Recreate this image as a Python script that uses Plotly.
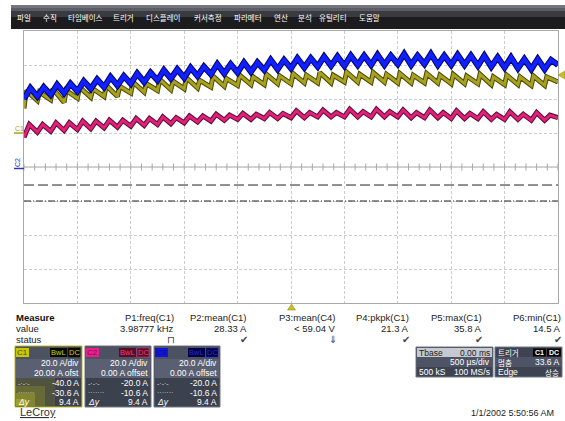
import plotly.graph_objects as go

W, H = 565, 421
SANS = "Liberation Sans, Arial, sans-serif"
KR = "Noto Sans CJK KR, Liberation Sans, sans-serif"

menu_items = ["파일", "수직", "타임베이스", "트리거", "디스플레이", "커서측정",
              "파라메터", "연산", "분석", "유틸리티", "도움말"]

# ripple tooth start times (ms), time base 500 us/div, trigger at centre
tooth_t = [-2.5, -2.375, -2.25, -2.125, -2.0, -1.875, -1.75, -1.625, -1.5, -1.375,
           -1.25, -1.125, -1.0, -0.875, -0.75, -0.625, -0.5, -0.375, -0.25, -0.125,
           0.0, 0.125, 0.25, 0.375, 0.5, 0.625, 0.75, 0.875, 1.0, 1.125,
           1.25, 1.375, 1.5, 1.625, 1.75, 1.875, 2.0, 2.125, 2.25, 2.375]

# C1 (yellow) current, A  -- 20 A/div, offset 20 A
c1_hi = [25, 24, 26, 25, 27, 26, 28, 27.5, 30, 29, 31.5, 30.5, 32.5, 31, 33.5, 32, 34, 33, 34.5, 33.5,
         35, 34, 35.5, 34, 35.8, 34.5, 35.5, 34.5, 35, 34, 35, 34, 34.5, 33.5, 34.5, 33, 34, 33, 33.5, 33]
c1_lo = [14.5, 19, 19.5, 18, 20.5, 21, 21.5, 21.5, 23.5, 24, 25, 25.5, 26, 26.5, 27, 27.5, 28, 28.5, 28.5, 29,
         29, 29.5, 29.5, 29.5, 30, 30, 30, 30, 29.5, 29.5, 29.5, 29.5, 29, 29, 29, 28.5, 28.5, 28.5, 28, 28]
c1_end = 30

# C2 (magenta) current, A -- 20 A/div, 0 offset
c2_hi = [25, 25, 26, 26, 27, 27, 27.5, 27.5, 28.5, 28.5, 29.5, 29, 30, 30, 31, 30.5, 31.5, 31, 32, 31.5,
         33, 32, 33.5, 32, 34, 32.5, 34, 32.5, 33.5, 32, 33.5, 32, 33, 31.5, 32.5, 31, 32.5, 31, 32, 30.5]
c2_lo = [17.5, 20.5, 21, 21.5, 22, 22.5, 23, 23.5, 24, 24.5, 25, 25.5, 26, 26.5, 27, 27.5, 28, 28, 28.5, 28.5,
         29, 29, 29.5, 29.5, 29.5, 29.5, 29.5, 29.5, 29.5, 29, 29, 29, 28.5, 28.5, 28.5, 28, 28, 28, 27.5, 27.5]
c2_end = 29

# C3 (blue) current, A -- 20 A/div, 0 offset
c3_hi = [46.5, 47, 48.5, 49, 50.5, 51.5, 53, 53.5, 55, 55.5, 57, 57.5, 58.5, 59, 60.5, 60.5, 61.5, 61.5, 63, 63,
         64, 64, 65, 65, 65.5, 65.5, 66, 65.5, 66.5, 65.5, 66.5, 65.5, 66, 65.5, 65.5, 64.5, 64.5, 63.5, 63.5, 63]
c3_lo = [40, 41.5, 42.5, 43.5, 44.5, 46, 47, 48, 49, 50, 51, 52, 52.5, 53.5, 54.5, 55, 55.5, 56, 57, 57.5,
         58, 58.5, 59, 59.5, 59.5, 60, 60, 60, 60.5, 60, 60.5, 60, 60, 60, 59.5, 59, 58.5, 58, 57.5, 57.5]
c3_end = 60

cursor_a = -40.0    # dash-dot cursor (A, C1 scale)
cursor_b = -30.6    # dashed cursor  (A, C1 scale)

meas_names = ["P1:freq(C1)", "P2:mean(C1)", "P3:mean(C4)", "P4:pkpk(C1)", "P5:max(C1)", "P6:min(C1)"]
meas_values = ["3.98777 kHz", "28.33 A", "< 59.04 V", "21.3 A", "35.8 A", "14.5 A"]
meas_status = ["⊓", "✔", "⇓", "✔", "✔", "✔"]

# ---------------- helpers ----------------
shapes, ann = [], []


def px(x):
    return x / W


def py(y):
    return 1 - y / H


def rect(x0, y0, x1, y1, fill, line=None, lw=0, opacity=1.0):
    shapes.append(dict(type="rect", xref="paper", yref="paper", x0=px(x0), x1=px(x1),
                       y0=py(y1), y1=py(y0), fillcolor=fill, opacity=opacity,
                       line=dict(color=line or fill, width=lw), layer="above"))


def txt(x, y, s, size=8.5, color="#111111", anchor="left", font=SANS, angle=0):
    ann.append(dict(x=px(x), y=py(y), xref="paper", yref="paper", text=s, showarrow=False,
                    xanchor=anchor, yanchor="middle", textangle=angle, borderpad=0,
                    font=dict(size=size, color=color, family=font)))


def zigzag(hi, lo, end, rise):
    xs, ys = [], []
    for t, h, l in zip(tooth_t, hi, lo):
        xs += [t, t + rise]
        ys += [l, h]
    xs.append(2.5)
    ys.append(end)
    return xs, ys


fig = go.Figure()

# centre-line ticks
tick_x = [round(-2.5 + 0.1 * i, 3) for i in range(51)]
fig.add_trace(go.Scatter(x=tick_x, y=[-20] * len(tick_x), mode="markers", yaxis="y",
                         marker=dict(symbol="line-ns", size=5, line=dict(width=1, color="#a8a8a8")),
                         hoverinfo="skip", showlegend=False))

# traces
x2, y2 = zigzag(c2_hi, c2_lo, c2_end, 0.05)
fig.add_trace(go.Scatter(x=x2, y=y2, yaxis="y2", mode="lines", line=dict(color="#5a0a30", width=5), showlegend=False))
fig.add_trace(go.Scatter(x=x2, y=y2, yaxis="y2", mode="lines", line=dict(color="#e0207a", width=3), showlegend=False))
x1, y1 = zigzag(c1_hi, c1_lo, c1_end, 0.02)
fig.add_trace(go.Scatter(x=x1, y=y1, yaxis="y", mode="lines", line=dict(color="#4a4a00", width=5), showlegend=False))
fig.add_trace(go.Scatter(x=x1, y=y1, yaxis="y", mode="lines", line=dict(color="#a8a020", width=3), showlegend=False))
x3, y3 = zigzag(c3_hi, c3_lo, c3_end, 0.06)
fig.add_trace(go.Scatter(x=x3, y=y3, yaxis="y2", mode="lines", line=dict(color="#00006a", width=6), showlegend=False))
fig.add_trace(go.Scatter(x=x3, y=y3, yaxis="y2", mode="lines", line=dict(color="#1020ff", width=4), showlegend=False))

# centre horizontal line + cursors
shapes.append(dict(type="line", xref="x", yref="y", x0=-2.5, x1=2.5, y0=-20, y1=-20,
                   line=dict(color="#a8a8a8", width=1), layer="below"))
shapes.append(dict(type="line", xref="x", yref="y", x0=-2.5, x1=2.5, y0=cursor_b, y1=cursor_b,
                   line=dict(color="#222222", width=1, dash="10px,4px")))
shapes.append(dict(type="line", xref="x", yref="y", x0=-2.5, x1=2.5, y0=cursor_a, y1=cursor_a,
                   line=dict(color="#222222", width=1, dash="7px,2px,1px,2px")))

# ---------------- menu bar ----------------
rect(11, 5, 565, 29, "#1c1c1e")
rect(11, 5, 565, 17, "#3a3b40")
rect(11, 5, 565, 11, "#5c5e66")
rect(11, 5, 565, 8, "#74767e")
menu_x = [16, 42, 67, 112, 145, 193, 233, 273, 297, 318, 358]
for mx, m in zip(menu_x, menu_items):
    txt(mx, 17.5, m, size=7.5, color="#ffffff", font=KR)

# ---------------- channel markers ----------------
txt(14, 128, "C1", size=7, color="#a8a020")
shapes.append(dict(type="line", xref="paper", yref="paper", x0=px(14), x1=px(24), y0=py(133), y1=py(133),
                   line=dict(color="#a8a020", width=1.5)))
txt(18, 163, "C2", size=7, color="#3434b0", anchor="center", angle=-90)
shapes.append(dict(type="line", xref="paper", yref="paper", x0=px(14), x1=px(24), y0=py(168.5), y1=py(168.5),
                   line=dict(color="#3434b0", width=1.5)))
shapes.append(dict(type="path", xref="paper", yref="paper",
                   path=f"M {px(558)} {py(75)} L {px(565)} {py(71)} L {px(565)} {py(79)} Z",
                   fillcolor="#c8c020", line=dict(color="#8a8410", width=0.5)))
shapes.append(dict(type="path", xref="paper", yref="paper",
                   path=f"M {px(291.5)} {py(304)} L {px(287.5)} {py(310)} L {px(295.5)} {py(310)} Z",
                   fillcolor="#c8c020", line=dict(color="#8a8410", width=0.5)))

# ---------------- measurement table ----------------
txt(15, 317, "<b>Measure</b>", size=9.5, color="#111111")
txt(15, 328, "value", size=9.5, color="#222222")
txt(15, 339, "status", size=9.5, color="#222222")
meas_right = [175, 248, 337, 410, 483, 562]
for r, nm, v, st in zip(meas_right, meas_names, meas_values, meas_status):
    txt(r, 317, nm, size=9.5, color="#222222", anchor="right")
    txt(r, 328, v, size=9.5, color="#222222", anchor="right")
    txt(r - 4, 339, st, size=10, color="#444444", anchor="center", font="DejaVu Sans, sans-serif")

# ---------------- channel descriptor boxes ----------------
boxes = [
    dict(x0=15, x1=82, label="C1", lab_bg="#c8c800", lab_fg="#4a4a00", tag_bg="#080808", tag_fg="#d0d000",
         border="#c0c020", offs="20.00 A ofst", c1=True),
    dict(x0=85, x1=151, label="C2", lab_bg="#e8208c", lab_fg="#8a0c4a", tag_bg="#5a0c24", tag_fg="#f03c80",
         border="#707684", offs="0.00 A offset", c1=False),
    dict(x0=154, x1=220, label="C3", lab_bg="#1414d8", lab_fg="#0a0aa0", tag_bg="#000040", tag_fg="#2a2ad0",
         border="#707684", offs="0.00 A offset", c1=False),
]
for b in boxes:
    x0, x1 = b["x0"], b["x1"]
    rect(x0, 346, x1, 407, "#3c414e", line=b["border"], lw=1)
    rect(x0 + 1, 347, x1 - 1, 359, "#4c5262")
    rect(x0 + 1, 359, x1 - 1, 378, "#5a6072")
    if b["c1"]:
        rect(x0 + 1, 378, x0 + 40, 406, "#8a8a18", opacity=0.25)
        rect(x0 + 1, 386, x0 + 30, 406, "#a0a020", opacity=0.3)
        rect(x0 + 1, 393, x0 + 20, 406, "#b8b824", opacity=0.35)
        rect(x0 + 1, 399, x0 + 11, 406, "#c8c828", opacity=0.4)
    rect(x0 + 1, 348, x0 + 14, 357, b["lab_bg"])
    txt(x0 + 7.5, 352.5, b["label"], size=8, color=b["lab_fg"], anchor="center")
    rect(x1 - 32, 348, x1 - 15, 357, b["tag_bg"])
    txt(x1 - 23.5, 352.5, "BwL", size=7.5, color=b["tag_fg"], anchor="center")
    rect(x1 - 14, 348, x1 - 2, 357, b["tag_bg"], line=b["tag_fg"] if not b["c1"] else None, lw=0.5)
    txt(x1 - 8, 352.5, "DC", size=7.5, color=b["tag_fg"], anchor="center")
    xr = x1 - 2
    txt(xr, 363, "20.0 A/div", color="#ffffff", anchor="right")
    txt(xr, 373, b["offs"], color="#ffffff", anchor="right")
    txt(xr, 383, "-40.0 A" if b["c1"] else "-20.0 A", color="#ffffff", anchor="right")
    txt(xr, 392.5, "-30.6 A" if b["c1"] else "-10.6 A", color="#ffffff", anchor="right")
    txt(xr, 402, "9.4 A", color="#ffffff", anchor="right")
    txt(x0 + 2, 383, "-·-·-", size=7, color="#d8d8d8")
    txt(x0 + 2, 392.5, "·······", size=7, color="#d8d8d8")
    txt(x0 + 2, 402, "<i>Δy</i>", color="#ffffff")

# ---------------- timebase / trigger boxes ----------------
rect(416, 347, 493, 377, "#3e4352", line="#707684", lw=1)
rect(417, 348, 492, 357, "#c6c9d0")
rect(417, 357, 492, 367, "#4e5466")
txt(418, 352.5, "Tbase", size=8.5, color="#202020")
txt(491, 352.5, "0.00 ms", size=8.5, color="#202020", anchor="right")
txt(491, 362, "500 µs/div", size=8.5, color="#ffffff", anchor="right")
txt(418, 372, "500 kS", size=8.5, color="#ffffff")
txt(491, 372, "100 MS/s", size=8.5, color="#ffffff", anchor="right")

rect(495, 347, 562, 377, "#3e4352", line="#707684", lw=1)
rect(496, 357, 561, 367, "#4e5466")
txt(497, 352, "트리거", size=7.5, color="#ffffff", font=KR)
rect(533, 348.5, 546, 356.5, "#050505")
txt(539.5, 352.5, "<b>C1</b>", size=7, color="#ffffff", anchor="center")
rect(547, 348.5, 561, 356.5, "#050505")
txt(554, 352.5, "<b>DC</b>", size=7, color="#ffffff", anchor="center")
txt(497, 362, "멈춤", size=7.5, color="#ffffff", font=KR)
txt(560, 362, "33.6 A", size=8.5, color="#ffffff", anchor="right")
txt(497, 372, "Edge", size=8.5, color="#ffffff")
txt(560, 372, "상승", size=7.5, color="#ffffff", anchor="right", font=KR)

# ---------------- footer ----------------
txt(19, 412, "<u>LeCroy</u>", size=11, color="#333333")
txt(555, 413, "1/1/2002 5:50:56 AM", size=9, color="#222222", anchor="right")

grid = dict(showgrid=True, gridcolor="#cccccc", griddash="3px,2px", gridwidth=1,
            showticklabels=False, ticks="", zeroline=False, showline=True, mirror=True,
            linecolor="#a8a8a8", linewidth=1, fixedrange=True)

fig.update_layout(
    width=W, height=H, margin=dict(l=0, r=0, t=0, b=0),
    paper_bgcolor="#ffffff", plot_bgcolor="#ffffff", showlegend=False,
    xaxis=dict(domain=[24 / W, 558 / W], range=[-2.5, 2.5], dtick=0.5, tick0=-2.5, **grid),
    yaxis=dict(domain=[(H - 303) / H, (H - 31) / H], range=[-100, 60], dtick=20, tick0=0, **grid),
    yaxis2=dict(overlaying="y", range=[-80, 80], visible=False, fixedrange=True),
    shapes=shapes, annotations=ann,
)

fig.write_html("out.html", config={"displayModeBar": False},
               post_script="document.body.style.margin='0';document.body.style.overflow='hidden';")
